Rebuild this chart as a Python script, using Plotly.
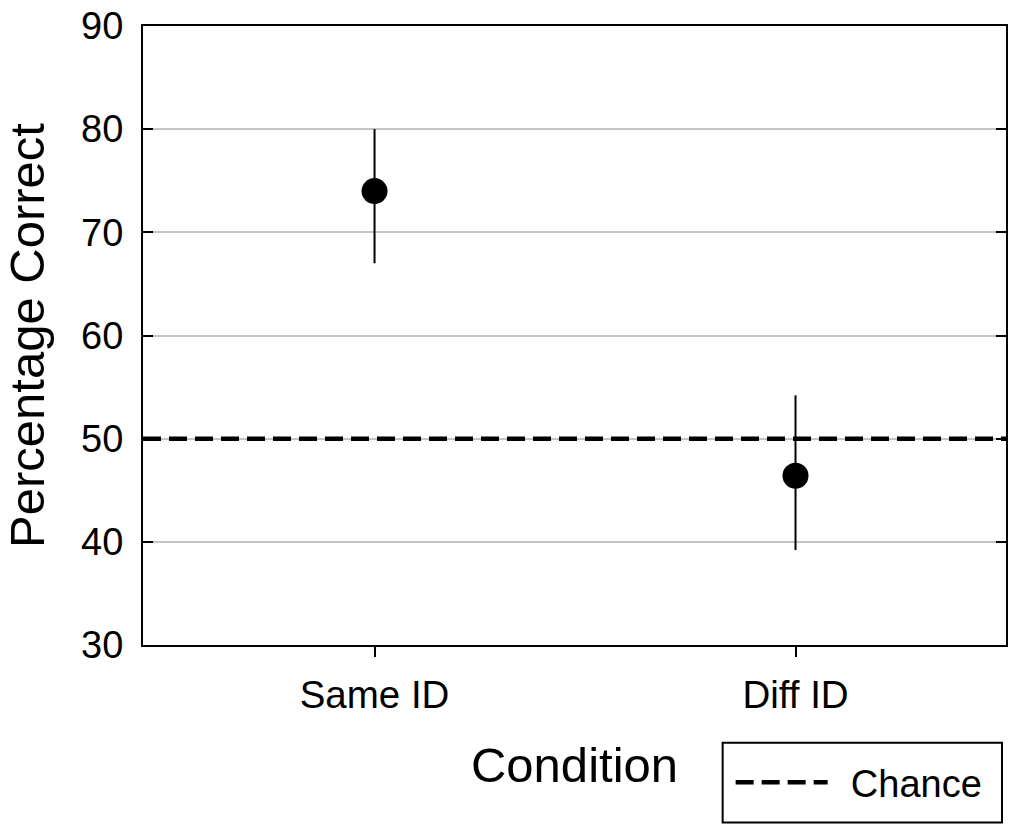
import plotly.graph_objects as go

conditions = ["Same ID", "Diff ID"]
pct_correct = [74.0, 46.4]
err_plus = [6.0, 7.8]
err_minus = [7.0, 7.2]
chance_level = 50
y_ticks = [30, 40, 50, 60, 70, 80, 90]

FONT = "Liberation Sans, Arial, sans-serif"

fig = go.Figure()
fig.add_trace(go.Scatter(
    x=conditions, y=pct_correct, mode="markers",
    marker=dict(color="black", size=26),
    error_y=dict(type="data", array=err_plus, arrayminus=err_minus,
                 color="black", thickness=2, width=0),
    showlegend=False,
))

fig.add_hline(y=chance_level, line=dict(color="black", width=4.5, dash="18px,8px"),
              layer="above", showlegend=True, name="\u00a0\u2009Chance")

# legend frame
fig.add_shape(type="rect", xref="paper", yref="paper",
              x0=(724 - 143) / 865, x1=(1004 - 143) / 865,
              y0=-(823 - 645) / 621, y1=-(743 - 645) / 621,
              line=dict(color="black", width=2), fillcolor="rgba(0,0,0,0)")

fig.update_layout(
    width=1013, height=829,
    margin=dict(l=143, r=5, t=24, b=184),
    paper_bgcolor="white", plot_bgcolor="white",
    font=dict(family=FONT, color="black", size=38),
    xaxis=dict(
        type="category", range=[-0.55, 1.5],
        showline=True, linecolor="black", linewidth=2, mirror=True,
        ticks="outside", ticklen=10, tickwidth=2, tickcolor="black",
        showgrid=False, zeroline=False,
        tickfont=dict(size=38.5), ticklabelstandoff=5,
        title=dict(text="Condition", font=dict(size=49), standoff=32),
    ),
    yaxis=dict(
        range=[30, 90], tickvals=y_ticks,
        showline=True, linecolor="black", linewidth=2, mirror="ticks",
        ticks="inside", ticklen=10, tickwidth=2, tickcolor="black",
        showgrid=True, gridcolor="#c4c4c4", gridwidth=1.5, zeroline=False,
        tickfont=dict(size=38), ticklabelstandoff=10,
        title=dict(text="Percentage Correct", font=dict(size=49), standoff=22),
    ),
    legend=dict(
        x=(732 - 143) / 865, y=-(783 - 645) / 621, xanchor="left", yanchor="middle",
        borderwidth=0, bgcolor="rgba(0,0,0,0)",
        font=dict(size=38), itemwidth=92,
    ),
)

fig.write_html(
    "out.html",
    config={"displayModeBar": False},
    post_script="document.body.style.margin='0';document.body.style.overflow='hidden';",
)
